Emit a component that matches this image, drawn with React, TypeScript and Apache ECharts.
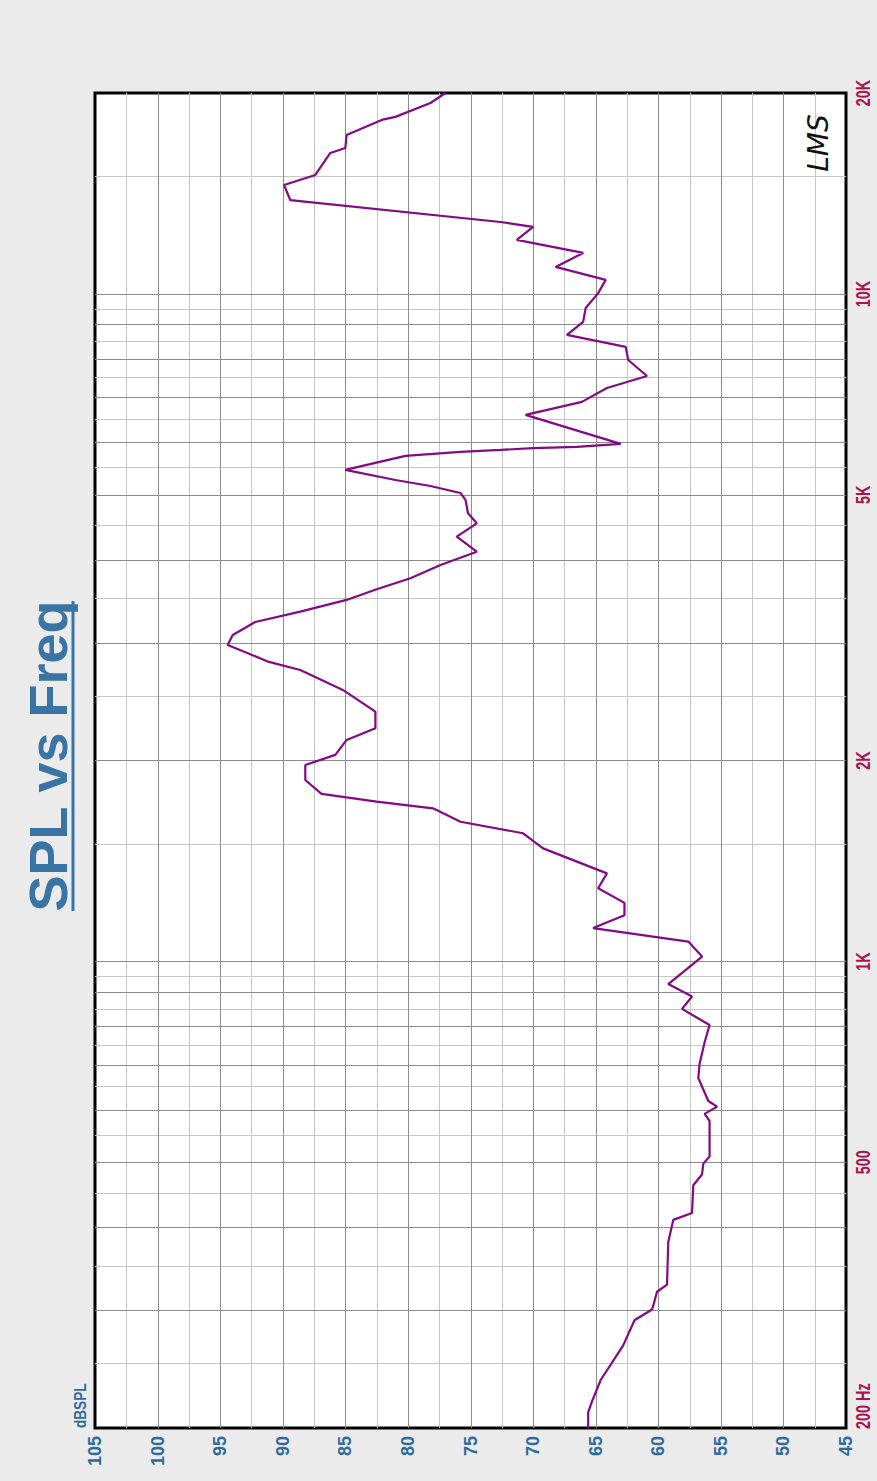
import React, { useEffect, useRef } from "react";
import * as echarts from "echarts";

// ---------- data ----------
const freqHz = [
  200, 211, 219, 236, 266, 290, 301, 305, 320, 328, 380, 410, 420, 462, 480, 498, 510, 577, 591, 606,
  618, 669, 702, 756, 803, 849, 886, 925, 1017, 1071, 1122, 1173, 1224, 1287, 1355, 1477, 1556, 1619,
  1696, 1735, 1782, 1870, 1969, 2039, 2147, 2235, 2367, 2551, 2733, 2810, 2979, 3083, 3225, 3342, 3480,
  3610, 3750, 3925, 4110, 4329, 4533, 4692, 4914, 5033, 5156, 5264, 5449, 5719, 5799, 5839, 5873, 5900,
  5962, 6590, 6892, 7228, 7534, 7962, 8329, 8683, 9080, 9529, 10027, 10497, 10977, 11520, 12049, 12600,
  12817, 13825, 14562, 15075, 16262, 16545, 17300, 18226, 18420, 19320, 20000,
];
const splDb = [
  65.6, 65.6, 65.3, 64.6, 62.8, 61.9, 60.5, 60.4, 60.1, 59.3, 59.2, 58.8, 57.3, 57.2, 56.5, 56.4, 55.9, 55.9, 56.3, 55.3,
  56.0, 56.8, 56.7, 56.3, 55.9, 58.1, 57.3, 59.2, 56.5, 57.6, 65.2, 62.7, 62.7, 64.8, 64.1, 69.2, 70.8, 75.8,
  78.0, 82.5, 86.9, 88.2, 88.2, 85.8, 84.9, 82.6, 82.6, 85.2, 88.6, 91.1, 94.4, 94.0, 92.2, 88.6, 84.9,
  82.5, 79.8, 77.4, 74.5, 76.1, 74.5, 75.2, 75.4, 75.8, 78.2, 81.0, 85.0, 80.2, 75.8, 72.6, 70.0, 66.5,
  63.0, 70.6, 66.1, 64.1, 60.9, 62.4, 62.6, 67.3, 66.0, 65.8, 64.8, 64.2, 68.2, 66.0, 71.3, 70.0,
  72.6, 89.4, 89.9, 87.4, 86.2, 85.0, 84.9, 82.1, 81.0, 78.2, 77.0,
];

const freqGridMajor = [300, 400, 500, 600, 700, 800, 900, 1000, 2000, 3000, 4000, 5000, 6000, 7000, 8000, 9000, 10000];
const freqGridMinor = [250, 350, 450, 550, 650, 750, 850, 950, 1500, 2500, 3500, 4500, 5500, 6500, 7500, 8500, 9500, 15000];
const dbGridMajor = [50, 55, 60, 65, 70, 75, 80, 85, 90, 95, 100];
const dbGridMinor = [47.5, 52.5, 57.5, 62.5, 67.5, 72.5, 77.5, 82.5, 87.5, 92.5, 97.5, 102.5];

const freqTickValues = [200, 500, 1000, 2000, 5000, 10000, 20000];
const freqTickLabels = ["200 Hz", "500", "1K", "2K", "5K", "10K", "20K"];

const DB_MIN = 45;
const DB_MAX = 105;
const F_MIN = 200;
const F_MAX = 20000;

const TITLE = "SPL vs Freq";
const UNIT = "dBSPL";

// ---------- styles ----------
const BG = "#EBEBEB";
const BLUE = "#2D6A9D";
const TITLE_BLUE = "#3A74A4";
const CRIMSON = "#AA144E";
const CURVE = "#820A82";
const MAJOR = "#8C8C8C";
const MINOR = "#C6C6C6";

function hLines(name: string, values: number[], color: string) {
  return {
    type: "custom",
    name,
    silent: true,
    z: 1,
    clip: false,
    encode: { x: 0, y: 1 },
    data: values.map((f) => [DB_MIN, f]),
    renderItem: (_p: any, api: any) => {
      const f = api.value(1);
      const a = api.coord([DB_MAX, f]);
      const b = api.coord([DB_MIN, f]);
      return {
        type: "line",
        shape: { x1: a[0], y1: Math.round(a[1]) + 0.5, x2: b[0], y2: Math.round(b[1]) + 0.5 },
        style: { stroke: color, lineWidth: 1 },
      };
    },
  };
}

function vLines(name: string, values: number[], color: string) {
  return {
    type: "custom",
    name,
    silent: true,
    z: 1,
    clip: false,
    encode: { x: 0, y: 1 },
    data: values.map((d) => [d, F_MIN]),
    renderItem: (_p: any, api: any) => {
      const d = api.value(0);
      const a = api.coord([d, F_MIN]);
      const b = api.coord([d, F_MAX]);
      return {
        type: "line",
        shape: { x1: Math.round(a[0]) + 0.5, y1: a[1], x2: Math.round(b[0]) + 0.5, y2: b[1] },
        style: { stroke: color, lineWidth: 1 },
      };
    },
  };
}

export default function App() {
  const ref = useRef<HTMLDivElement>(null);

  useEffect(() => {
    if (!ref.current) return;
    const chart = echarts.init(ref.current, null, { renderer: "svg" });

    const option: any = {
      animation: false,
      backgroundColor: BG,
      grid: {
        left: 95,
        right: 31,
        top: 93,
        bottom: 53,
        show: true,
        backgroundColor: "#FFFFFF",
        borderColor: "#000000",
        borderWidth: 3,
        containLabel: false,
      },
      xAxis: {
        type: "value",
        min: DB_MIN,
        max: DB_MAX,
        interval: 5,
        inverse: true,
        axisLine: { show: false },
        axisTick: { show: false },
        splitLine: { show: false },
        axisLabel: {
          rotate: 90,
          margin: 8,
          color: BLUE,
          fontWeight: "bold",
          fontSize: 18,
          fontFamily: '"Liberation Sans", Arial, sans-serif',
        },
      },
      yAxis: {
        type: "log",
        logBase: 10,
        min: F_MIN,
        max: F_MAX,
        position: "right",
        axisLine: { show: false },
        axisTick: { show: false },
        axisLabel: { show: false },
        splitLine: { show: false },
        minorSplitLine: { show: false },
      },
      series: [
        hLines("fmin", freqGridMinor, MINOR),
        vLines("dmin", dbGridMinor, MINOR),
        hLines("fmaj", freqGridMajor, MAJOR),
        vLines("dmaj", dbGridMajor, MAJOR),
        {
          type: "custom",
          name: "freqLabels",
          silent: true,
          z: 5,
          clip: false,
          encode: { x: 0, y: 1 },
          data: freqTickValues.map((f) => [DB_MIN, f]),
          renderItem: (params: any, api: any) => {
            const f = api.value(1);
            const p = api.coord([DB_MIN, f]);
            const i = params.dataIndex;
            return {
              type: "text",
              x: p[0] + 17,
              y: i === 0 ? p[1] + 1 : p[1],
              rotation: Math.PI / 2,
              scaleX: 0.72,
              style: {
                text: freqTickLabels[i],
                fill: CRIMSON,
                font: 'bold 20px "Liberation Sans", Arial, sans-serif',
                align: i === 0 ? "left" : "center",
                verticalAlign: "middle",
              },
            };
          },
        },
        {
          type: "line",
          name: "SPL",
          z: 3,
          data: freqHz.map((f, i) => [splDb[i], f]),
          showSymbol: false,
          symbol: "none",
          clip: true,
          lineStyle: { color: CURVE, width: 2.2 },
        },
      ],
      graphic: [
        {
          type: "text",
          x: 48,
          y: 756,
          rotation: Math.PI / 2,
          style: {
            text: TITLE,
            fill: TITLE_BLUE,
            font: 'bold 54px "Liberation Sans", Arial, sans-serif',
            align: "center",
            verticalAlign: "middle",
          },
        },
        {
          type: "line",
          shape: { x1: 73, y1: 601, x2: 73, y2: 911 },
          style: { stroke: TITLE_BLUE, lineWidth: 3 },
        },
        {
          type: "text",
          x: 80,
          y: 1428,
          rotation: Math.PI / 2,
          scaleX: 0.8,
          style: {
            text: UNIT,
            fill: BLUE,
            font: 'bold 17px "Liberation Sans", Arial, sans-serif',
            align: "left",
            verticalAlign: "middle",
          },
        },
        {
          type: "text",
          x: 818,
          y: 143,
          rotation: Math.PI / 2,
          z: 10,
          style: {
            text: "LMS",
            fill: "#111111",
            font: 'italic 28px "DejaVu Sans", sans-serif',
            align: "center",
            verticalAlign: "middle",
          },
        },
      ],
    };

    chart.setOption(option);
    return () => chart.dispose();
  }, []);

  return (
    <div
      ref={ref}
      style={{ position: "absolute", left: 0, top: 0, width: 877, height: 1481 }}
    />
  );
}
